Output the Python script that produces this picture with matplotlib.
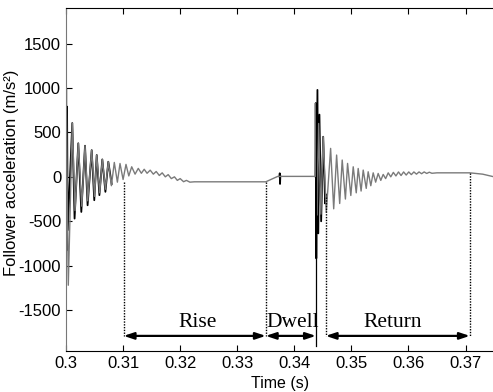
import matplotlib
matplotlib.use("Agg")
import matplotlib.pyplot as plt

plt.rcParams["axes.unicode_minus"] = False

# gray trace: alternating extrema (time in s, accel in m/s^2)
gray_t = [0.30000, 0.30005, 0.30040, 0.30110, 0.30158, 0.30215, 0.30275, 0.30333,
          0.30380, 0.30450, 0.30500, 0.30538, 0.30590, 0.30636, 0.30690, 0.30741,
          0.30795, 0.30846, 0.30900, 0.30946, 0.31000, 0.31051, 0.31100, 0.31151,
          0.31210, 0.31266, 0.31320, 0.31370, 0.31420, 0.31475, 0.31530, 0.31580,
          0.31635, 0.31685, 0.31740, 0.31790, 0.31845, 0.31900, 0.31950, 0.32000,
          0.32060, 0.32110, 0.32170, 0.32250, 0.33500, 0.33710, 0.34370,
          0.34378, 0.34400, 0.34426, 0.34465, 0.34506, 0.34560, 0.34636, 0.34690,
          0.34741, 0.34795, 0.34839, 0.34895, 0.34933, 0.34990, 0.35032, 0.35085,
          0.35119, 0.35170, 0.35207, 0.35260, 0.35294, 0.35340, 0.35382, 0.35425,
          0.35469, 0.35515, 0.35557, 0.35600, 0.35645, 0.35690, 0.35735, 0.35780,
          0.35825, 0.35870, 0.35915, 0.35960, 0.36005, 0.36050, 0.36095, 0.36140,
          0.36185, 0.36230, 0.36275, 0.36320, 0.36365, 0.36410, 0.36500, 0.37075,
          0.37300, 0.37500]
gray_a = [0, 780, -1220, 605, -380, 377, -330, 350,
          -270, 300, -220, 245, -180, 196, -140, 170,
          -100, 162, -60, 150, -30, 140, 10, 113,
          30, 95, 40, 85, 40, 75, 30, 60,
          15, 45, 0, 25, -20, 0, -40, -20,
          -55, -40, -60, -56, -56, 5, 5,
          830, -430, 600, -420, 451, -400, 320, -360,
          245, -300, 189, -250, 151, -210, 113, -180,
          94, -160, 76, -130, 57, -100, 45, -60,
          38, -40, 27, -20, 45, 0, 50, 10,
          55, 15, 55, 20, 55, 25, 55, 30,
          55, 35, 55, 38, 52, 40, 45, 45,
          30, 0]

# black trace, three separate pieces: rise start, dwell glitch, return start
black1_t = [0.30000, 0.30003, 0.30010, 0.30018, 0.30030, 0.30110, 0.30150, 0.30215,
            0.30268, 0.30333, 0.30378, 0.30450, 0.30495, 0.30538, 0.30585, 0.30636,
            0.30690, 0.30741, 0.30800]
black1_a = [0, 1000, -830, 790, -600, 605, -470, 377,
            -395, 350, -320, 300, -263, 245, -206, 196,
            -169, 170, -80]
black2_t = [0.33740, 0.33745, 0.33750, 0.33755]
black2_a = [5, 40, -80, 5]
black3_t = [0.34370, 0.34375, 0.34385, 0.34405, 0.34420, 0.34440, 0.34470, 0.34506,
            0.34540, 0.34560]
black3_a = [5, 830, -918, 978, -636, 700, -500, 451,
            -300, -200]

x_ticks = [0.30, 0.31, 0.32, 0.33, 0.34, 0.35, 0.36, 0.37]
x_labels = ["0.3", "0.31", "0.32", "0.33", "0.34", "0.35", "0.36", "0.37"]
y_ticks = [-1500, -1000, -500, 0, 500, 1000, 1500]

# phase boundaries and where the guide lines start on the curve
bounds = [0.3101, 0.3350, 0.34378, 0.3455, 0.37075]
bound_top = [-56, -56, 830, -230, 45]
arrow_y = -1790
phases = ["Rise", "Dwell", "Return"]
phase_x = [0.3231, 0.33975, 0.35727]

fig = plt.figure(figsize=(4.93, 3.92), dpi=100)
ax = fig.add_axes([0.1339, 0.1046, 0.8683, 0.875])

for bt, ba in [(black1_t, black1_a), (black2_t, black2_a), (black3_t, black3_a)]:
    ax.plot(bt, ba, color="black", lw=1.3)
ax.plot(gray_t, gray_a, color="#7a7a7a", lw=1.0)

for i, (b, top) in enumerate(zip(bounds, bound_top)):
    if i == 2:
        ax.plot([b, b], [top, -1900], color="black", lw=0.9)
    else:
        ax.plot([b, b], [top, arrow_y], color="black", lw=1.0, ls=(0, (1, 1)))

arrow_pairs = [(bounds[0], bounds[1]), (bounds[1], bounds[2]), (bounds[3], bounds[4])]
for (x0, x1), name, xc in zip(arrow_pairs, phases, phase_x):
    ax.annotate("", xy=(x1, arrow_y), xytext=(x0, arrow_y),
                arrowprops=dict(arrowstyle="<|-|>,head_length=0.6,head_width=0.2",
                                color="black", lw=1.6, shrinkA=0, shrinkB=0))
    ax.text(xc, -1640, name, ha="center", va="center",
            family="Liberation Serif", fontsize=15.5)

ax.set_xlim(0.30, 0.375)
ax.set_ylim(-1960, 1900)
ax.set_xticks(x_ticks)
ax.set_xticklabels(x_labels)
ax.set_yticks(y_ticks)
ax.tick_params(direction="in", length=4, labelsize=12, top=True, right=False)
for lab in ax.get_xticklabels() + ax.get_yticklabels():
    lab.set_family("Liberation Sans")
ax.spines["left"].set_color("#777777")
ax.spines["right"].set_visible(False)
ax.set_xlabel("Time (s)", family="Liberation Sans", fontsize=11.5, labelpad=4)
ax.set_ylabel("Follower acceleration (m/s²)", family="Liberation Sans", fontsize=12)
ax.yaxis.set_label_coords(-0.11, 0.52)

fig.savefig("out.png", dpi=100)
